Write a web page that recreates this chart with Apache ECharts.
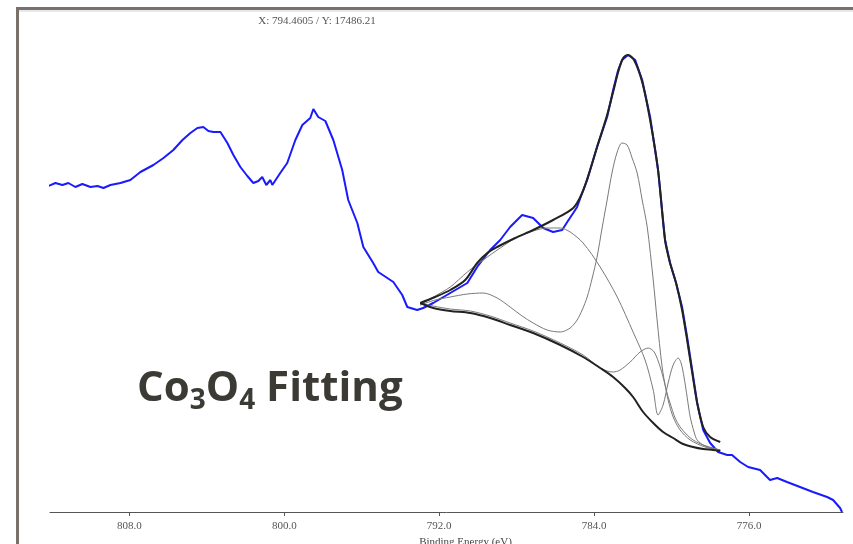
<!DOCTYPE html>
<html><head><meta charset="utf-8">
<script src="https://cdn.jsdelivr.net/npm/echarts@6/dist/echarts.min.js"></script>
<style>html,body{margin:0;padding:0;background:#fff}#c{width:853px;height:544px}</style>
</head><body><div id="c"></div>
<script>
// Binding energy (eV) and intensity (arb.)
const specE = [812.18,811.82,811.46,811.15,810.79,810.43,810.01,809.65,809.34,808.98,808.46,807.95,807.43,806.76,806.24,805.73,805.26,804.85,804.49,804.18,803.92,803.66,803.30,802.94,802.63,802.27,801.91,801.60,801.34,801.14,800.93,800.72,800.62,800.21,799.85,799.43,799.07,798.66,798.50,798.25,797.88,797.47,797.01,796.70,796.23,795.92,795.41,795.15,794.37,793.91,793.65,793.14,792.83,792.31,791.43,790.55,790.04,789.37,788.85,788.34,787.72,787.15,786.63,786.12,785.65,785.39,785.08,784.88,784.62,784.36,783.85,783.33,783.02,782.76,782.56,782.25,781.88,781.52,781.11,780.70,780.34,780.08,779.77,779.46,779.20,778.94,778.68,778.37,778.01,777.60,777.13,776.88,776.46,776.05,775.43,774.92,774.55,774.04,773.37,772.70,771.97,771.66,771.30,771.20];
const specI = [326,329,327,329,325,328,325,326,324,327,329,332,340,347,354,362,372,379,384,385,381,380,380,369,357,345,336,329,331,335,327,332,327,339,349,372,387,394,403,395,391,372,342,312,289,265,249,240,230,217,205,202,204,209,219,229,245,262,272,285,297,294,284,280,282,290,299,305,319,332,365,395,422,442,452,457,452,432,395,342,272,249,229,205,175,142,109,82,69,60,57,57,50,45,42,32,34,30,25,20,15,12,4,0];

const envE = [792.98,792.21,791.43,790.66,790.04,789.52,789.01,788.08,787.15,786.12,785.08,784.62,784.21,783.85,783.33,783.02,782.76,782.50,782.25,781.94,781.52,781.11,780.70,780.34,780.08,779.77,779.46,779.20,778.94,778.68,778.37,778.01,777.49];
const envI = [209,215,222,232,249,259,265,274,282,292,304,319,342,365,397,420,440,454,457,452,430,392,342,272,249,229,202,172,140,109,85,75,70];

const bgE = [792.98,792.31,791.43,790.40,789.37,788.34,787.15,785.75,784.57,783.69,783.02,782.40,781.99,781.47,780.95,780.44,779.92,779.41,778.89,778.37,777.86,777.49];
const bgI = [209,204,201,199,194,187,179,167,155,144,135,124,115,100,89,80,74,68,65,63,62,61];

const mainE = [792.98,792.21,791.43,790.55,789.73,789.01,788.34,787.72,787.15,786.43,785.75,785.24,784.88,784.62,784.36,784.10,783.85,783.59,783.33,783.07,782.81,782.56,782.30,782.04,781.78,781.52,781.26,780.95,780.75,780.49,780.28,780.08,779.82,779.56,779.20,778.89,778.37,777.86,777.49];
const mainI = [207,212,215,218,219,214,205,196,189,182,180,184,192,202,215,234,255,284,312,340,360,369,367,354,339,312,285,232,192,145,122,109,94,85,77,72,67,64,62];

const satE = [792.98,792.21,791.43,790.55,789.73,788.85,787.97,787.15,786.43,785.75,785.24,784.57,783.69,782.81,781.99,781.37,780.95,780.70,780.44,780.18,779.92,779.66,779.51,779.36,779.20,779.04,778.84,778.68,778.27,777.49];
const satI = [207,216,225,240,252,264,275,281,284,284,280,269,245,215,180,152,122,97,107,129,147,154,149,135,115,95,80,72,66,62];

const midE = [792.98,792.31,791.43,790.40,789.37,788.34,787.15,785.75,784.57,783.69,783.33,783.02,782.66,782.14,781.63,781.21,780.90,780.59,780.34,780.18,779.92,779.56,779.04,778.27,777.49];
const midI = [209,206,203,201,196,189,181,169,157,144,141,140,142,150,160,164,160,145,127,112,95,82,72,65,62];

const tickVals = [808, 800, 792, 784, 776];

const pairs = (xs, ys) => xs.map((x, i) => [x, ys[i]]);

const chart = echarts.init(document.getElementById('c'), null, {renderer: 'canvas'});
const thin = {color: '#7a7a7a', width: 1};
chart.setOption({
  animation: false,
  backgroundColor: '#fff',
  grid: {left: 50, right: 10, top: 12, bottom: 32, containLabel: false, outerBoundsMode: 'none'},
  xAxis: {
    type: 'value', inverse: true, min: 771.15, max: 812.1,
    name: 'Binding Energy (eV)', nameLocation: 'middle', nameGap: 22,
    nameTextStyle: {fontFamily: 'Liberation Serif', fontSize: 11, color: '#444', padding: [0, 0, 0, 38]},
    axisLine: {lineStyle: {color: '#555', width: 1}},
    axisTick: {show: true, length: 4, lineStyle: {color: '#555'}, customValues: tickVals},
    axisLabel: {fontFamily: 'Liberation Serif', fontSize: 11, color: '#555', margin: 9,
      customValues: tickVals, formatter: v => v.toFixed(1)},
    splitLine: {show: false}
  },
  yAxis: {type: 'value', min: 0, max: 500, show: false, splitLine: {show: false}},
  graphic: [
    {type: 'rect', shape: {x: 17.5, y: 8.5, width: 900, height: 600}, style: {fill: 'none', stroke: '#787069', lineWidth: 3}, z: 100},
    {type: 'line', shape: {x1: 19, y1: 11, x2: 853, y2: 11}, style: {stroke: '#e6e8f0', lineWidth: 2}, z: 99},
    {type: 'text', x: 317, y: 21, style: {text: 'X: 794.4605 / Y: 17486.21', fontFamily: 'Liberation Serif', fontSize: 11, fill: '#555', align: 'center', verticalAlign: 'middle'}},
    {type: 'text', x: 137, y: 389, style: {
      text: '{b|Co}{s|3}{b|O}{s|4}{b| Fitting}',
      verticalAlign: 'middle',
      rich: {
        b: {fontFamily: 'Open Sans', fontWeight: 'bold', fontSize: 42, fill: '#3b3a34', lineHeight: 50},
        s: {fontFamily: 'Open Sans', fontWeight: 'bold', fontSize: 28, fill: '#3b3a34', lineHeight: 50, padding: [24, 0, 0, 0]}
      }}}
  ],
  series: [
    {type: 'line', data: pairs(specE, specI), showSymbol: false, lineStyle: {color: '#1a1aff', width: 2}, z: 2},
    {type: 'line', data: pairs(mainE, mainI), showSymbol: false, smooth: 0.3, lineStyle: thin, z: 3},
    {type: 'line', data: pairs(satE, satI), showSymbol: false, smooth: 0.3, lineStyle: thin, z: 3},
    {type: 'line', data: pairs(midE, midI), showSymbol: false, smooth: 0.3, lineStyle: thin, z: 3},
    {type: 'line', data: pairs(bgE, bgI), showSymbol: false, smooth: 0.3, lineStyle: {color: '#222', width: 2}, z: 4},
    {type: 'line', data: pairs(envE, envI), showSymbol: false, smooth: 0.3, lineStyle: {color: '#222', width: 2}, z: 4}
  ]
});
</script></body></html>
